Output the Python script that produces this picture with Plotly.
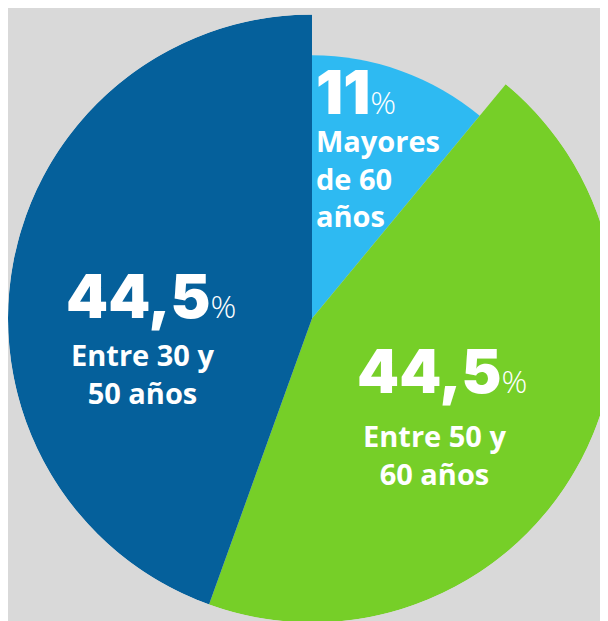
import plotly.graph_objects as go
import numpy as np

# datos
grupos = ["Mayores de 60 años", "Entre 50 y 60 años", "Entre 30 y 50 años"]
porcentajes = [11, 44.5, 44.5]
etiquetas_pct = ["11", "44,5", "44,5"]
etiquetas = ["Mayores<br>de 60<br>años", "Entre 50 y<br>60 años", "Entre 30 y<br>50 años"]
radios = [264, 305, 305]
colores = ["#2ebaf2", "#76cf28", "#05609b"]

W, H = 608, 621

# angulos de cada porcion (sentido horario desde las 12)
anchos = [p * 3.6 for p in porcentajes]
centros = list(np.cumsum(anchos) - np.array(anchos) / 2)

fig = go.Figure(go.Barpolar(
    r=radios,
    theta=centros,
    width=anchos,
    marker=dict(color=colores, line=dict(width=0)),
    hoverinfo="skip",
))


def px(x, y):
    return x / W, 1 - y / H


numero = dict(family="Inter", size=60, color="white", weight=900)
texto = dict(family="Open Sans", size=29, color="white", weight=700)
pct = "<span style='font-size:32px;font-weight:300;font-family:Open Sans'>%</span>"

anots = []
# 11% mayores de 60
x, y = px(306, 84)
anots.append(dict(x=x, y=y, text=etiquetas_pct[0] + pct, xanchor="left", yanchor="middle",
                  font=numero, showarrow=False))
x, y = px(306, 170)
anots.append(dict(x=x, y=y, text=etiquetas[0], xanchor="left", yanchor="middle",
                  align="left", font=texto, showarrow=False))
# 44,5% entre 30 y 50
x, y = px(143, 288)
anots.append(dict(x=x, y=y, text=etiquetas_pct[2] + pct, xanchor="center", yanchor="middle",
                  font=numero, showarrow=False))
x, y = px(134, 366)
anots.append(dict(x=x, y=y, text=etiquetas[2], xanchor="center", yanchor="middle",
                  align="center", font=texto, showarrow=False))
# 44,5% entre 50 y 60
x, y = px(434, 363)
anots.append(dict(x=x, y=y, text=etiquetas_pct[1] + pct, xanchor="center", yanchor="middle",
                  font=numero, showarrow=False))
x, y = px(426, 446)
anots.append(dict(x=x, y=y, text=etiquetas[1], xanchor="center", yanchor="middle",
                  align="center", font=texto, showarrow=False))

fig.update_layout(
    width=W, height=H,
    margin=dict(l=0, r=0, t=0, b=0),
    paper_bgcolor="#d9d9d9",
    showlegend=False,
    annotations=anots,
    polar=dict(
        domain=dict(x=[0, 1], y=[0, 1]),
        bgcolor="rgba(0,0,0,0)",
        radialaxis=dict(visible=False, range=[0, 305]),
        angularaxis=dict(visible=False, rotation=90, direction="clockwise"),
    ),
)

fig.write_html("out.html")
